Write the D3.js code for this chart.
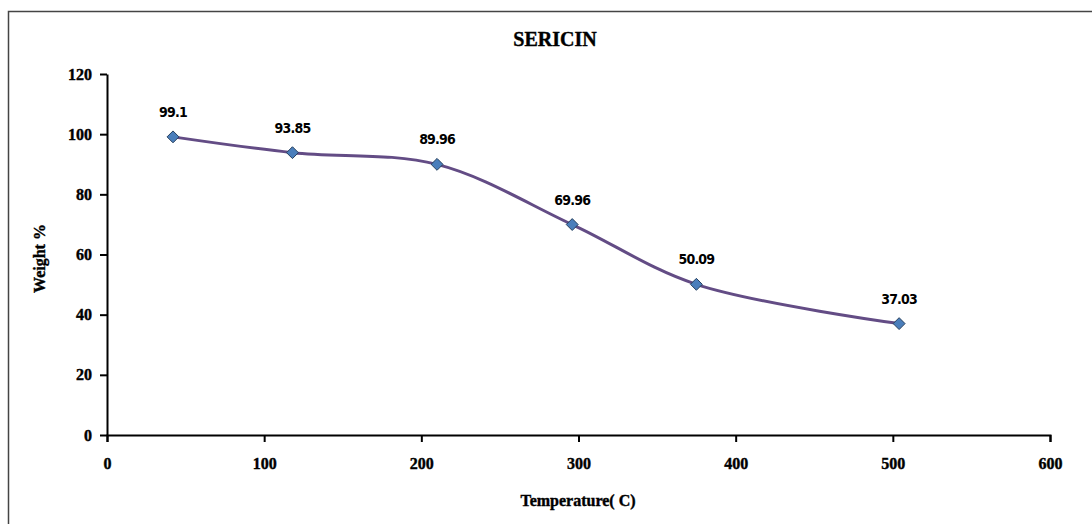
<!DOCTYPE html>
<html>
<head>
<meta charset="utf-8">
<script src="https://cdn.jsdelivr.net/npm/d3@7"></script>
<style>
  body { margin: 0; background: #fff; }
  svg { display: block; }
</style>
</head>
<body>
<svg id="chart"></svg>
<script>
// temperature (C), weight % from the point labels
const temperatures = [42, 118, 210, 296, 375, 504]
const weights = [99.1, 93.85, 89.96, 69.96, 50.09, 37.03]
const xTicks = [0, 100, 200, 300, 400, 500, 600]
const yTicks = [0, 20, 40, 60, 80, 100, 120]

let config = {
    width: 1092,
    height: 524,
    plot: { left: 107, right: 1050, top: 74, bottom: 435 },
    colors: {
        line: "#634c85",
        marker: "#4a7ebb",
        markerStroke: "#27405e",
        border: "#444"
    },
    serif: "'Liberation Serif', 'Times New Roman', serif",
    sans: "'DejaVu Sans Condensed', 'DejaVu Sans', Tahoma, sans-serif"
}

const svg = d3.select("svg#chart")
    .attr("width", config.width)
    .attr("height", config.height)

// chart area border (right and bottom edges fall outside the picture)
svg.append("rect")
    .attr("x", 8.5).attr("y", 11.5)
    .attr("width", 1100).attr("height", 530)
    .style("fill", "none")
    .style("stroke", config.colors.border)
    .style("stroke-width", 1.5)

const x = d3.scaleLinear().domain([0, 600]).range([config.plot.left, config.plot.right])
const y = d3.scaleLinear().domain([0, 120]).range([config.plot.bottom, config.plot.top])

// the reference text is heavy, so a thin outline thickens the bold serif
const boldSerif = function (sel, size) {
    sel.style("font-family", config.serif)
        .style("font-weight", "bold")
        .style("font-size", size)
        .style("fill", "#000")
        .style("stroke", "#000")
        .style("stroke-width", 0.4)
}

const styleAxis = function (g) {
    g.select(".domain").style("stroke", "#000").style("stroke-width", 2)
    g.selectAll(".tick line").style("stroke", "#000").style("stroke-width", 2)
    g.selectAll(".tick text").call(boldSerif, "16px")
}

svg.append("g")
    .attr("transform", `translate(0,${config.plot.bottom})`)
    .call(d3.axisBottom(x).tickValues(xTicks).tickSize(7).tickSizeOuter(7).tickPadding(16))
    .call(styleAxis)

svg.append("g")
    .attr("transform", `translate(${config.plot.left},0)`)
    .call(d3.axisLeft(y).tickValues(yTicks).tickSize(7).tickSizeOuter(0).tickPadding(8))
    .call(styleAxis)

svg.selectAll(".domain").attr("fill", "none")

// title and axis titles
svg.append("text")
    .text("SERICIN")
    .attr("x", 555).attr("y", 46)
    .attr("text-anchor", "middle")
    .call(boldSerif, "20px")

svg.append("text")
    .text("Temperature( C)")
    .attr("x", 578).attr("y", 506)
    .attr("text-anchor", "middle")
    .call(boldSerif, "16px")

svg.append("text")
    .text("Weight %")
    .attr("transform", `translate(45,${(config.plot.top + config.plot.bottom) / 2 + 4}) rotate(-90)`)
    .attr("text-anchor", "middle")
    .call(boldSerif, "16px")

const points = temperatures.map((t, i) => ({ t: t, w: weights[i] }))

const line = d3.line()
    .x(d => x(d.t))
    .y(d => y(d.w))
    .curve(d3.curveCatmullRom.alpha(0.5))

svg.append("path")
    .datum(points)
    .attr("d", line)
    .style("fill", "none")
    .style("stroke", config.colors.line)
    .style("stroke-width", 3)

svg.selectAll(".marker")
    .data(points)
    .enter().append("path")
    .attr("class", "marker")
    .attr("d", d3.symbol().type(d3.symbolDiamond2).size(90))
    .attr("transform", d => `translate(${x(d.t)},${y(d.w)})`)
    .style("fill", config.colors.marker)
    .style("stroke", config.colors.markerStroke)
    .style("stroke-width", 1)

svg.selectAll(".value-label")
    .data(points)
    .enter().append("text")
    .attr("class", "value-label")
    .text(d => d.w)
    .attr("x", d => x(d.t))
    .attr("y", d => y(d.w) - 20)
    .attr("text-anchor", "middle")
    .style("font-family", config.sans)
    .style("font-weight", "bold")
    .style("font-size", "14px")
    .style("letter-spacing", "-0.8px")
</script>
</body>
</html>
